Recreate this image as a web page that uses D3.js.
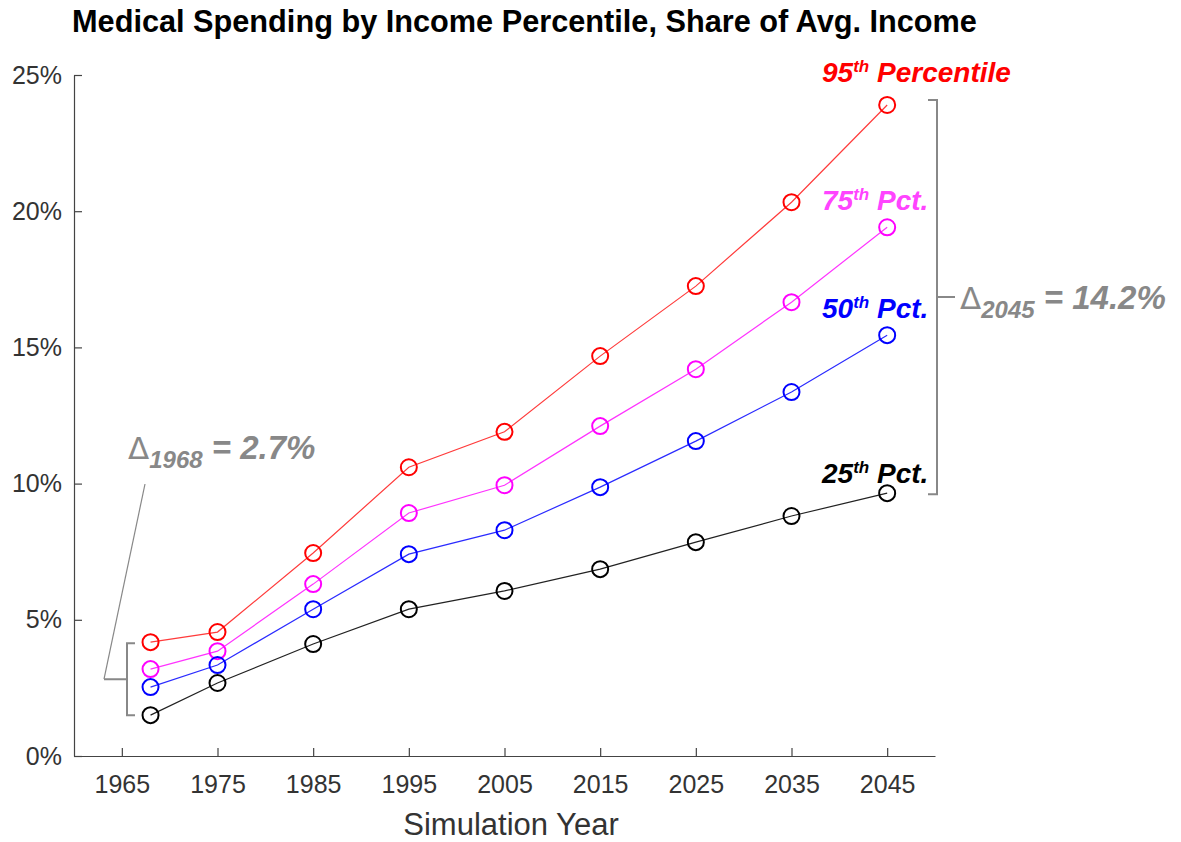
<!DOCTYPE html>
<meta charset="utf-8">
<style>
body { margin: 0; background: #fff; }
svg text { font-family: "Liberation Sans", Arial, sans-serif; }
.axis path, .axis line { stroke: #444; stroke-width: 1.2; }
.axis text { fill: #333; font-size: 25px; }
</style>
<body>
<script src="https://cdn.jsdelivr.net/npm/d3@7"></script>
<script>

// data
var years = [1968, 1975, 1985, 1995, 2005, 2015, 2025, 2035, 2045];
var p95 = [4.18, 4.55, 7.45, 10.6, 11.9, 14.68, 17.25, 20.33, 23.9];
var p75 = [3.19, 3.85, 6.31, 8.92, 9.94, 12.11, 14.2, 16.66, 19.41];
var p50 = [2.53, 3.34, 5.39, 7.41, 8.29, 9.87, 11.56, 13.36, 15.45];
var p25 = [1.5, 2.68, 4.11, 5.39, 6.06, 6.86, 7.85, 8.81, 9.65];
var xTicks = [1965, 1975, 1985, 1995, 2005, 2015, 2025, 2035, 2045];
var yTicks = [0, 5, 10, 15, 20, 25];

var series = [
  {vals: p95, color: "#ff0000", line: "#ff3b3b", num: "95", rest: " Percentile", labelColor: "#ff0000"},
  {vals: p75, color: "#ff00ff", line: "#ff33ff", num: "75", rest: " Pct.", labelColor: "#ff44ff"},
  {vals: p50, color: "#0000ff", line: "#2b2bff", num: "50", rest: " Pct.", labelColor: "#0000ff"},
  {vals: p25, color: "#000000", line: "#222222", num: "25", rest: " Pct.", labelColor: "#000000"}
];

var W = 1181, H = 842;
var svg = d3.select("body").append("svg").attr("width", W).attr("height", H);

var x = d3.scaleLinear().domain([1960, 2050]).range([74, 935]);
var y = d3.scaleLinear().domain([0, 25]).range([756, 75]);

// title
svg.append("text")
  .attr("x", 72).attr("y", 32)
  .attr("font-size", 30.7).attr("font-weight", "bold")
  .text("Medical Spending by Income Percentile, Share of Avg. Income");

// axes
svg.append("g").attr("class", "axis")
  .attr("transform", "translate(0," + y(0) + ")")
  .call(d3.axisBottom(x).tickValues(xTicks).tickFormat(d3.format("d"))
        .tickSizeInner(-8).tickSizeOuter(0).tickPadding(19));

svg.append("g").attr("class", "axis")
  .attr("transform", "translate(" + x(1960) + ",0)")
  .call(d3.axisLeft(y).tickValues(yTicks).tickFormat(function (d) { return d + "%"; })
        .tickSizeInner(-8).tickSizeOuter(0).tickPadding(12));

svg.append("text")
  .attr("x", 511).attr("y", 835)
  .attr("text-anchor", "middle").attr("font-size", 31).attr("fill", "#333")
  .text("Simulation Year");

// lines and markers
var line = d3.line()
  .x(function (d, i) { return x(years[i]); })
  .y(function (d) { return y(d); });

series.forEach(function (s) {
  svg.append("path")
    .attr("d", line(s.vals))
    .attr("fill", "none").attr("stroke", s.line).attr("stroke-width", 1.2);
  svg.selectAll(null).data(s.vals).enter().append("circle")
    .attr("cx", function (d, i) { return x(years[i]); })
    .attr("cy", function (d) { return y(d); })
    .attr("r", 8)
    .attr("fill", "none").attr("stroke", s.color).attr("stroke-width", 2);
});

// series labels
var labelY = [82, 210, 318, 483];
series.forEach(function (s, k) {
  var t = svg.append("text")
    .attr("x", 822).attr("y", labelY[k])
    .attr("font-size", 28).attr("font-weight", "bold").attr("font-style", "italic")
    .attr("fill", s.labelColor);
  t.append("tspan").text(s.num);
  t.append("tspan").attr("font-size", 17).attr("dy", -10).text("th");
  t.append("tspan").attr("dy", 10).text(s.rest);
});

var gray = "#888";

// right bracket: 2045 gap
var last = years.length - 1;
var bx = 937, top2045 = y(p95[last]) - 5, bot2045 = y(p25[last]) + 1;
var mid2045 = (top2045 + bot2045) / 2;
svg.append("path")
  .attr("d", "M" + (bx - 9) + "," + top2045 + "H" + bx + "V" + bot2045 + "H" + (bx - 9)
        + "M" + bx + "," + mid2045 + "H" + (bx + 18))
  .attr("fill", "none").attr("stroke", gray).attr("stroke-width", 2);

var t2 = svg.append("text")
  .attr("x", 960).attr("y", mid2045 + 12)
  .attr("font-size", 33).attr("font-weight", "bold").attr("font-style", "italic")
  .attr("fill", gray);
t2.append("tspan").attr("font-weight", "normal").attr("font-style", "normal")
  .attr("font-family", "DejaVu Sans").attr("font-size", 31).text("\u0394");
t2.append("tspan").attr("font-size", 24).attr("dy", 9).text("2045");
t2.append("tspan").attr("dy", -9).text(" = " + d3.format(".1f")(p95[last] - p25[last]) + "%");

// left bracket: 1968 gap
var lx = 127, top1968 = y(p95[0]) + 1, bot1968 = y(p25[0]);
var mid1968 = (top1968 + bot1968) / 2;
svg.append("path")
  .attr("d", "M" + (lx + 8) + "," + top1968 + "H" + lx + "V" + bot1968 + "H" + (lx + 8)
        + "M" + lx + "," + mid1968 + "H" + 104)
  .attr("fill", "none").attr("stroke", gray).attr("stroke-width", 2);
svg.append("line")
  .attr("x1", 104).attr("y1", mid1968).attr("x2", 145).attr("y2", 484)
  .attr("stroke", gray).attr("stroke-width", 1.2);

var t1 = svg.append("text")
  .attr("x", 128).attr("y", 459)
  .attr("font-size", 33).attr("font-weight", "bold").attr("font-style", "italic")
  .attr("fill", gray);
t1.append("tspan").attr("font-weight", "normal").attr("font-style", "normal")
  .attr("font-family", "DejaVu Sans").attr("font-size", 31).text("\u0394");
t1.append("tspan").attr("font-size", 24).attr("dy", 9).text("1968");
t1.append("tspan").attr("dy", -9).text(" = " + d3.format(".1f")(p95[0] - p25[0]) + "%");

</script>
</body>
